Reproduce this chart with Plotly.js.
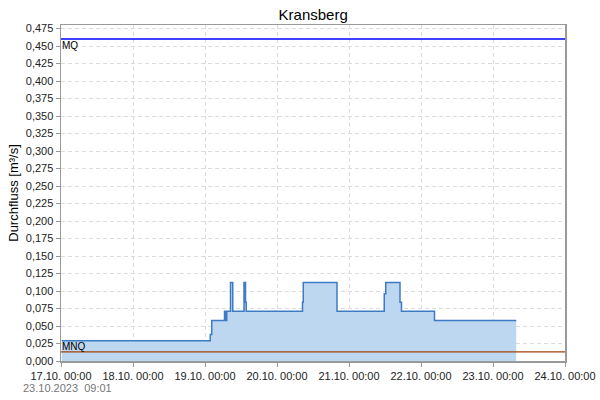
<!DOCTYPE html>
<html>
<head>
<meta charset="utf-8">
<script src="https://cdn.plot.ly/plotly-3.0.1.min.js"></script>
<style>html,body{margin:0;padding:0;background:#fff}#chart{width:600px;height:400px}</style>
</head>
<body>
<div id="chart"></div>
<script>
const times = [
  "2023-10-17 00:15","2023-10-19 01:45","2023-10-19 02:15","2023-10-19 06:30",
  "2023-10-19 07:00","2023-10-19 07:15","2023-10-19 08:30","2023-10-19 09:15",
  "2023-10-19 13:00","2023-10-19 13:30","2023-10-19 13:45","2023-10-20 08:30",
  "2023-10-20 08:45","2023-10-20 20:00","2023-10-21 11:45","2023-10-21 12:15",
  "2023-10-21 17:00","2023-10-21 17:30","2023-10-22 04:30","2023-10-23 07:45"
];
const flow = [
  0.029,0.038,0.058,0.071,
  0.058,0.071,0.112,0.071,
  0.112,0.084,0.071,0.084,
  0.112,0.071,0.096,0.112,
  0.084,0.071,0.058,0.058
];
const MQ = 0.46;
const MNQ = 0.013;
const xStart = "2023-10-17 00:00";
const xEnd = "2023-10-24 00:00";
const titleText = "Kransberg";
const yTitle = "Durchfluss [m³/s]";
const stamp = "23.10.2023\u00a0\u00a009:01";

const font = "Liberation Sans, Arial, sans-serif";
const traces = [
  {x: times, y: flow, type: "scatter", mode: "lines", line: {shape: "hv", color: "#3d7cc4", width: 1.5},
   fill: "tozeroy", fillcolor: "rgba(189,215,240,1)", hoverinfo: "skip"},
  {x: [xStart, xEnd], y: [MQ, MQ], type: "scatter", mode: "lines", line: {color: "#0000ff", width: 1.3}},
  {x: [xStart, xEnd], y: [MNQ, MNQ], type: "scatter", mode: "lines", line: {color: "#a0430a", width: 1.3}}
];
const layout = {
  width: 600, height: 400,
  margin: {l: 61, r: 35, t: 25, b: 39},
  paper_bgcolor: "#fff", plot_bgcolor: "#fff",
  showlegend: false,
  separators: ",.",
  font: {family: font, size: 11, color: "#222"},
  title: {text: titleText, font: {family: font, size: 15, color: "#000"}, x: 0.522, xanchor: "center", y: 0.963, yanchor: "middle"},
  xaxis: {
    type: "date", range: [xStart, xEnd], dtick: 86400000, tick0: xStart,
    tickformat: "%d.%m. %H:%M", showgrid: true, gridcolor: "#dcdcdc", griddash: "4px,3px", gridwidth: 1,
    showline: true, linecolor: "#999", linewidth: 1.5, mirror: true,
    ticks: "outside", ticklen: 4, tickcolor: "#999", zeroline: false,
    tickfont: {family: font, size: 11, color: "#222"}
  },
  yaxis: {
    range: [0, 0.48], dtick: 0.025, tick0: 0, tickformat: ".3f",
    showgrid: true, gridcolor: "#dcdcdc", griddash: "4px,3px", gridwidth: 1,
    showline: true, linecolor: "#999", linewidth: 1.5, mirror: true,
    ticks: "outside", ticklen: 4, tickcolor: "#999", zeroline: false,
    tickfont: {family: font, size: 11, color: "#222"},
    title: {text: yTitle, font: {family: font, size: 13, color: "#000"}, standoff: 4}
  },
  annotations: [
    {xref: "paper", yref: "y", x: 0, y: MQ, xanchor: "left", yanchor: "top", text: "MQ", showarrow: false,
     font: {family: font, size: 10, color: "#000"}, xshift: -1, yshift: 1},
    {xref: "paper", yref: "y", x: 0, y: MNQ, xanchor: "left", yanchor: "bottom", text: "MNQ", showarrow: false,
     font: {family: font, size: 10, color: "#000"}, xshift: -1, yshift: -2},
    {xref: "paper", yref: "paper", x: -0.079, y: -0.08, xanchor: "left", yanchor: "middle", text: stamp, showarrow: false,
     font: {family: font, size: 11, color: "#777"}}
  ]
};
Plotly.newPlot("chart", traces, layout, {displayModeBar: false, staticPlot: true});
</script>
</body>
</html>
